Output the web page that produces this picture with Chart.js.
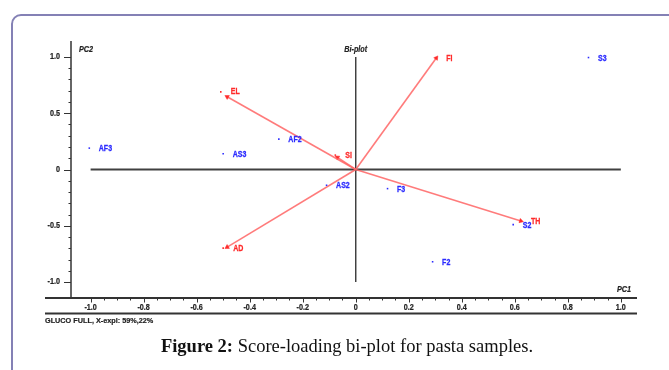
<!DOCTYPE html>
<html>
<head>
<meta charset="utf-8">
<script src="https://cdn.jsdelivr.net/npm/chart.js@4.4.0/dist/chart.umd.min.js"></script>
<style>
    html, body { margin: 0; padding: 0; background: #fff; }
    #wrap { position: relative; width: 669px; height: 370px; overflow: hidden; }
    #frame {
        position: absolute; left: 11px; top: 14px; width: 720px; height: 420px;
        border: 2px solid #8481b5; border-radius: 10px;
    }
    #chart { position: absolute; left: 0; top: 0; }
    #caption {
        position: absolute; left: 12px; width: 670px; top: 336px; text-align: center;
        font: 18.5px "Liberation Serif", "Times New Roman", serif; color: #111;
    }
</style>
</head>
<body>
<div id="wrap">
    <div id="frame"></div>
    <canvas id="chart" width="669" height="370"></canvas>
    <div id="caption"><b>Figure 2:</b> Score-loading bi-plot for pasta samples.</div>
</div>
<script>
// Skorlar (mavi noktalar)
const scoreLabels = ['AF3', 'AS3', 'AF2', 'AS2', 'F3', 'F2', 'S2', 'S3'];
const scoreX = [-1.005, -0.50, -0.29, -0.11, 0.12, 0.29, 0.594, 0.878];
const scoreY = [0.19, 0.14, 0.27, -0.14, -0.17, -0.82, -0.49, 0.995];

// Yüklemeler (kırmızı oklar)
const loadingLabels = ['FI', 'EL', 'SI', 'AD', 'TH'];
const loadingX = [0.304, -0.509, -0.077, -0.50, 0.623];
const loadingY = [0.991, 0.690, 0.128, -0.699, -0.457];
const arrowX = [0.304, -0.485, -0.069, -0.485, 0.623];
const arrowY = [0.991, 0.646, 0.108, -0.690, -0.457];

// Eksen etiketleri
const xTicks = [-1.0, -0.8, -0.6, -0.4, -0.2, 0, 0.2, 0.4, 0.6, 0.8, 1.0];
const xTickLabels = ['-1.0', '-0.8', '-0.6', '-0.4', '-0.2', '0', '0.2', '0.4', '0.6', '0.8', '1.0'];
const yTicks = [1.0, 0.5, 0, -0.5, -1.0];
const yTickLabels = ['1.0', '0.5', '0', '-0.5', '-1.0'];

const BLUE = '#2b2bff';
const RED = '#ff2a2a';
const AXIS = '#333';

// Dar yazı (Arial Narrow benzeri), hafif kalınlaştırılmış
function narrowText(ctx, text, x, y, sx, align, heavy) {
    ctx.save();
    ctx.translate(x, y);
    ctx.scale(sx, 1);
    ctx.textAlign = align || 'left';
    ctx.fillText(text, 0, 0);
    if (heavy) {
        ctx.strokeStyle = ctx.fillStyle;
        ctx.lineWidth = heavy;
        ctx.strokeText(text, 0, 0);
    }
    ctx.restore();
}

const biplotPlugin = {
    id: 'biplot',
    beforeDatasetsDraw(chart) {
        const { ctx, scales: { x, y } } = chart;
        ctx.save();
        ctx.strokeStyle = '#404040';
        ctx.lineWidth = 2;
        ctx.beginPath();
        ctx.moveTo(x.getPixelForValue(-1), y.getPixelForValue(0));
        ctx.lineTo(x.getPixelForValue(1), y.getPixelForValue(0));
        ctx.stroke();
        ctx.lineWidth = 1.5;
        ctx.beginPath();
        ctx.moveTo(x.getPixelForValue(0), y.getPixelForValue(1));
        ctx.lineTo(x.getPixelForValue(0), y.getPixelForValue(-1));
        ctx.stroke();
        ctx.restore();
    },
    afterDraw(chart) {
        const { ctx, chartArea: a, scales: { x, y } } = chart;
        ctx.save();
        ctx.strokeStyle = AXIS;
        ctx.fillStyle = '#222';

        // Y ekseni
        ctx.lineWidth = 1.5;
        ctx.beginPath();
        ctx.moveTo(a.left, a.top);
        ctx.lineTo(a.left, a.bottom);
        ctx.stroke();
        ctx.lineWidth = 1;
        for (let i = -10; i <= 10; i++) {
            const py = Math.round(y.getPixelForValue(i / 10)) + 0.5;
            const len = (i % 5 === 0) ? 7 : 2.5;
            ctx.beginPath();
            ctx.moveTo(a.left - len, py);
            ctx.lineTo(a.left, py);
            ctx.stroke();
        }
        ctx.font = 'bold 8.5px "Liberation Sans", Arial, sans-serif';
        ctx.textBaseline = 'middle';
        yTicks.forEach((v, i) => {
            narrowText(ctx, yTickLabels[i], a.left - 11, y.getPixelForValue(v), 0.85, 'right', 0.2);
        });

        // X ekseni
        const x0 = 45;
        ctx.lineWidth = 1.8;
        ctx.beginPath();
        ctx.moveTo(x0, a.bottom);
        ctx.lineTo(a.right, a.bottom);
        ctx.stroke();
        ctx.beginPath();
        ctx.moveTo(x0, a.bottom + 15.5);
        ctx.lineTo(a.right, a.bottom + 15.5);
        ctx.stroke();
        ctx.lineWidth = 1;
        for (let i = -20; i <= 20; i++) {
            const px = Math.round(x.getPixelForValue(i / 20)) + 0.5;
            const len = (i % 4 === 0) ? 4.5 : 2.5;
            ctx.beginPath();
            ctx.moveTo(px, a.bottom);
            ctx.lineTo(px, a.bottom + len);
            ctx.stroke();
        }
        xTicks.forEach((v, i) => {
            narrowText(ctx, xTickLabels[i], x.getPixelForValue(v), a.bottom + 10, 0.85, 'center', 0.2);
        });

        // Eksen başlıkları
        ctx.font = 'italic bold 8.5px "Liberation Sans", Arial, sans-serif';
        narrowText(ctx, 'PC2', 79, 50, 0.85, 'left', 0.2);
        narrowText(ctx, 'Bi-plot', x.getPixelForValue(0), 50, 0.85, 'center', 0.2);
        narrowText(ctx, 'PC1', 624, 290, 0.85, 'center', 0.2);

        ctx.font = 'bold 7.5px "Liberation Sans", Arial, sans-serif';
        narrowText(ctx, 'GLUCO FULL, X-expl: 59%,22%', 45, 321, 0.97, 'left', 0.2);

        // Nokta etiketleri
        ctx.font = 'bold 9.5px "Liberation Sans", Arial, sans-serif';
        ctx.fillStyle = BLUE;
        scoreLabels.forEach((t, i) => {
            narrowText(ctx, t, x.getPixelForValue(scoreX[i]) + 9.5, y.getPixelForValue(scoreY[i]) + 0.5, 0.74, 'left', 0.3);
        });
        ctx.fillStyle = RED;
        loadingLabels.forEach((t, i) => {
            narrowText(ctx, t, x.getPixelForValue(loadingX[i]) + 10, y.getPixelForValue(loadingY[i]), 0.74, 'left', 0.3);
        });
        ctx.restore();
    }
};

function arrowRotation(ctx) {
    const chart = ctx.chart;
    const xs = chart.scales.x, ys = chart.scales.y;
    if (!xs || !ys) return 0;
    const i = ctx.datasetIndex - 2;
    const dx = xs.getPixelForValue(arrowX[i]) - xs.getPixelForValue(0);
    const dy = ys.getPixelForValue(arrowY[i]) - ys.getPixelForValue(0);
    return Math.atan2(dx, -dy) * 180 / Math.PI;
}

const datasets = [
    {
        label: 'Scores',
        data: scoreX.map((v, i) => ({ x: v, y: scoreY[i] })),
        pointStyle: 'rect',
        pointRadius: 1.1,
        backgroundColor: BLUE,
        borderColor: BLUE,
        borderWidth: 0
    },
    {
        label: 'Loadings',
        data: loadingX.map((v, i) => ({ x: v, y: loadingY[i] })),
        pointStyle: 'rect',
        pointRadius: 1.1,
        backgroundColor: RED,
        borderColor: RED,
        borderWidth: 0
    }
];
arrowX.forEach((v, i) => {
    datasets.push({
        type: 'line',
        label: loadingLabels[i],
        data: [{ x: 0, y: 0 }, { x: v, y: arrowY[i] }],
        borderColor: 'rgba(255, 100, 100, 0.85)',
        borderWidth: 1.6,
        pointRadius: [0, 2.6],
        pointStyle: 'triangle',
        pointBackgroundColor: RED,
        pointBorderColor: RED,
        pointBorderWidth: 0.5,
        pointRotation: arrowRotation
    });
});

new Chart(document.getElementById('chart').getContext('2d'), {
    type: 'scatter',
    data: { datasets: datasets },
    options: {
        responsive: false,
        animation: false,
        events: [],
        layout: { padding: { left: 71, right: 32, top: 41, bottom: 72 } },
        plugins: { legend: { display: false }, tooltip: { enabled: false } },
        scales: {
            x: { type: 'linear', min: -1.074, max: 1.061, display: false },
            y: { type: 'linear', min: -1.142, max: 1.142, display: false }
        }
    },
    plugins: [biplotPlugin]
});
</script>
</body>
</html>
